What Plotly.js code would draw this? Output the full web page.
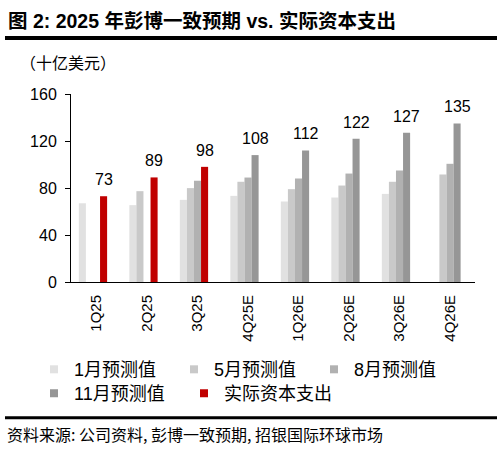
<!DOCTYPE html>
<html>
<head>
<meta charset="utf-8">
<script src="https://cdn.plot.ly/plotly-3.0.1.min.js"></script>
<style>html,body{margin:0;padding:0;background:#fff;}#chart{width:502px;height:451px;}</style>
</head>
<body>
<div id="chart"></div>
<script>
var categories = ["1Q25", "2Q25", "3Q25", "4Q25E", "1Q26E", "2Q26E", "3Q26E", "4Q26E"];
var janForecast = [67, 65.4, 69.9, 73.3, 68.5, 71.9, 75, null];
var mayForecast = [null, 77.3, 79.9, 85.3, 79, 82.1, 85.3, 91.5];
var augForecast = [null, null, 86.1, 88.9, 88.1, 92.3, 94.9, 100.6];
var novForecast = [null, null, null, 108, 112, 122, 127, 135];
var actualCapex = [73, 89, 98, null, null, null, null, null];
var seriesNames = ["1月预测值", "5月预测值", "8月预测值", "11月预测值", "实际资本支出"];
var seriesColors = ["#e1e1e1", "#c9c9c9", "#b1b1b1", "#969696", "#c00000"];
var yTicks = [0, 40, 80, 120, 160];

var CJK = '"Liberation Sans", Arial, "Noto Sans CJK SC", sans-serif';
var barW = 0.14;
var offsets = [-0.345, -0.205, -0.065, 0.075, 0.075];
var allSeries = [janForecast, mayForecast, augForecast, novForecast, actualCapex];
var legendOf = ['legend', 'legend', 'legend', 'legend2', 'legend3'];

// plot area in pixels
var PL = 71, PR = 475, PT = 94.3, PB = 282;
function px2x(px) { return (px - PL) / (PR - PL); }
function px2y(py) { return (PB - py) / (PB - PT); }

var traces = [];
allSeries.forEach(function (vals, i) {
  traces.push({
    type: 'bar', x: categories, y: vals, name: seriesNames[i],
    width: barW, offset: offsets[i],
    marker: {color: seriesColors[i], line: {width: 0}},
    showlegend: false, hoverinfo: 'x+y'
  });
});
// legend entries
allSeries.forEach(function (vals, i) {
  traces.push({
    type: 'scatter', mode: 'markers', x: [null], y: [null], name: seriesNames[i],
    marker: {symbol: 'square', size: 8, color: seriesColors[i]},
    showlegend: true, legend: legendOf[i], hoverinfo: 'skip'
  });
});

var annotations = [];
categories.forEach(function (c, i) {
  var v = actualCapex[i] != null ? actualCapex[i] : novForecast[i];
  if (v == null) return;
  annotations.push({
    x: i + offsets[3] + barW / 2, y: v, xref: 'x', yref: 'y',
    text: String(Math.round(v)), showarrow: false, yanchor: 'bottom', xanchor: 'center',
    yshift: 6, font: {family: CJK, size: 16, color: '#000'}
  });
});
annotations.push({
  xref: 'paper', yref: 'paper', x: px2x(6), y: px2y(21),
  xanchor: 'left', yanchor: 'middle', showarrow: false,
  text: '<b>图 2: 2025 年彭博一致预期 vs. 实际资本支出</b>',
  font: {family: CJK, size: 19.5, color: '#000'}
});
annotations.push({
  xref: 'paper', yref: 'paper', x: px2x(18), y: px2y(62),
  xanchor: 'left', yanchor: 'middle', showarrow: false,
  text: '（十亿美元）',
  font: {family: '"Noto Sans CJK SC", sans-serif', size: 16, color: '#000'}
});
annotations.push({
  xref: 'paper', yref: 'paper', x: px2x(5), y: px2y(434),
  xanchor: 'left', yanchor: 'middle', showarrow: false,
  text: '资料来源: 公司资料, 彭博一致预期, 招银国际环球市场',
  font: {family: '"Noto Sans CJK SC", sans-serif', size: 16, color: '#000'}
});

var shapes = [
  {type: 'line', xref: 'paper', yref: 'paper', x0: px2x(5), x1: px2x(497),
   y0: px2y(38.5), y1: px2y(38.5), line: {color: '#000', width: 4}},
  {type: 'line', xref: 'paper', yref: 'paper', x0: px2x(5), x1: px2x(497),
   y0: px2y(417.5), y1: px2y(417.5), line: {color: '#000', width: 3}}
];

function legendBox(leftPx, topPx) {
  return {
    orientation: 'h', xref: 'paper', yref: 'paper',
    x: px2x(leftPx), y: px2y(topPx), xanchor: 'left', yanchor: 'top',
    entrywidth: 95, entrywidthmode: 'pixels',
    font: {family: CJK, size: 18, color: '#000'}, bgcolor: 'rgba(0,0,0,0)',
    itemclick: false, itemdoubleclick: false
  };
}
var legend3 = legendBox(184, 375);
legend3.entrywidth = 130;

var layout = {
  width: 502, height: 451,
  margin: {l: PL, r: 502 - PR, t: PT, b: 451 - PB, pad: 0},
  paper_bgcolor: '#fff', plot_bgcolor: '#fff',
  barmode: 'overlay',
  showlegend: true,
  xaxis: {
    type: 'category', range: [-0.5, 7.5], showline: true, linecolor: '#000', linewidth: 1,
    ticks: '', tickangle: -90, showgrid: false, zeroline: false,
    tickfont: {family: CJK, size: 15, color: '#000'}, ticklabelstandoff: 6, fixedrange: true
  },
  yaxis: {
    range: [0, 160], tickvals: yTicks, showline: true, linecolor: '#000', linewidth: 1,
    ticks: 'outside', ticklen: 5, tickcolor: '#000', showgrid: false, zeroline: false,
    tickfont: {family: CJK, size: 16, color: '#000'}, ticklabelstandoff: 5, fixedrange: true
  },
  legend: legendBox(34, 351),
  legend2: legendBox(34, 375),
  legend3: legend3,
  annotations: annotations,
  shapes: shapes
};

Plotly.newPlot('chart', traces, layout, {displayModeBar: false, staticPlot: true});
</script>
</body>
</html>
